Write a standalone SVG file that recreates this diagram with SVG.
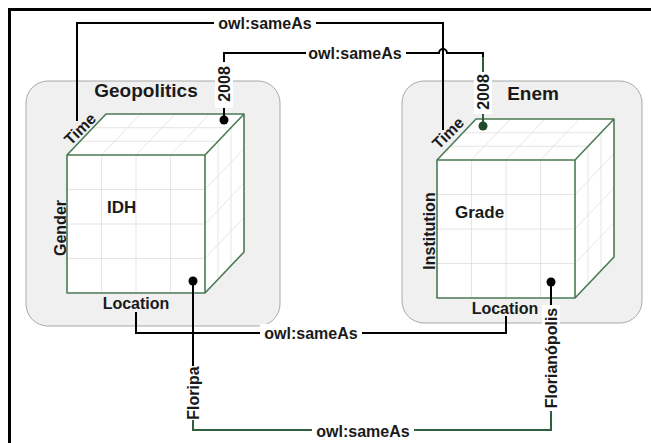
<svg xmlns="http://www.w3.org/2000/svg" width="651" height="443" viewBox="0 0 651 443">
<style>
.frame{fill:none;stroke:#000;stroke-width:3}
.box{fill:#f0f0f0;stroke:#a8a8a8;stroke-width:1}
.face{fill:#fff;stroke:none}
.grid{fill:none;stroke:#dedede;stroke-width:0.8}
.edge{fill:none;stroke:#4b7a55;stroke-width:1.6;stroke-linejoin:round}
.ln{fill:none;stroke:#000;stroke-width:2}
.gln{fill:none;stroke:#2f5f3c;stroke-width:2}
.t{font-family:"Liberation Sans",Arial,sans-serif;font-weight:bold;fill:#1a1a1a}
.lbl{font-size:16px;text-anchor:middle;dominant-baseline:central}
.title{font-size:19px;text-anchor:middle}
.m{font-size:17px}
.bg{fill:#fff}
</style>
<defs>
<g id="cube">
<rect class="face" x="0" y="0" width="138" height="138"/>
<polygon class="face" points="0,0 39,-41 177,-41 138,0"/>
<polygon class="face" points="138,0 177,-41 177,97 138,138"/>
<path class="grid" d="M34.5,0V138M69,0V138M103.5,0V138M0,34.5H138M0,69H138M0,103.5H138
M34.5,0L73.5,-41M69,0L108,-41M103.5,0L142.5,-41M13,-13.7H151M26,-27.3H164
M151,-13.7V124.3M164,-27.3V110.7M138,34.5L177,-6.5M138,69L177,28M138,103.5L177,62.5"/>
<path class="edge" d="M0,0H138V138H0Z M0,0L39,-41H177L138,0 M177,-41V97L138,138"/>
</g>
</defs>
<path class="frame" d="M9.5,443V9.5H651"/>

<g id="geopolitics">
<rect class="box" x="26" y="81" width="254" height="245" rx="22"/>
<text class="t title" x="146" y="97">Geopolitics</text>
<use href="#cube" transform="translate(67,155)"/>
<text class="t m" x="107" y="213">IDH</text>
</g>

<g id="enem">
<rect class="box" x="402" y="81" width="240" height="242" rx="22"/>
<text class="t title" x="533" y="100">Enem</text>
<use href="#cube" transform="translate(437,160)"/>
<text class="t m" x="455" y="218">Grade</text>
</g>

<g id="connectors">
<path class="ln" d="M77,121V23H443V130"/>
<path class="ln" d="M224,63V53H439A4,4 0 0 1 447,53H483V58"/>
<path class="gln" d="M483,57V75"/>
<path class="ln" d="M224,106V120"/>
<circle cx="224" cy="120" r="4.5" fill="#000"/>
<path class="gln" d="M483,110V126"/>
<circle cx="483" cy="126" r="4.5" fill="#1f4a2c"/>
<path class="ln" d="M136,312V333H506V316"/>
<path class="ln" d="M193,281V368"/>
<circle cx="193" cy="281" r="4.5" fill="#000"/>
<path class="gln" d="M193,418V430H551V408"/>
<path class="ln" d="M551,282V308"/>
<circle cx="551" cy="282" r="4.5" fill="#000"/>
</g>

<g id="label-sameas-1">
<rect class="bg" x="214" y="14" width="102" height="19"/>
<text class="t lbl" x="265" y="23">owl:sameAs</text>
</g>
<g id="label-sameas-2">
<rect class="bg" x="306" y="44" width="100" height="19"/>
<text class="t lbl" x="355" y="53">owl:sameAs</text>
</g>
<g id="label-sameas-3">
<rect class="bg" x="260" y="324" width="102" height="19"/>
<text class="t lbl" x="311" y="333">owl:sameAs</text>
</g>
<g id="label-sameas-4">
<rect class="bg" x="312" y="422" width="102" height="19"/>
<text class="t lbl" x="363" y="431">owl:sameAs</text>
</g>

<g id="label-geo-time"><text class="t lbl" transform="translate(80,129) rotate(-45)">Time</text></g>
<g id="label-enem-time"><text class="t lbl" transform="translate(448,133) rotate(-45)">Time</text></g>
<g id="label-geo-2008">
<rect class="bg" x="215" y="62" width="18" height="46"/>
<text class="t lbl" transform="translate(224,84) rotate(-90)">2008</text>
</g>
<g id="label-enem-2008">
<rect class="bg" x="474" y="72" width="18" height="42"/>
<text class="t lbl" transform="translate(483,92) rotate(-90)">2008</text>
</g>
<g id="label-gender"><text class="t lbl" transform="translate(60,228) rotate(-90)">Gender</text></g>
<g id="label-institution"><text class="t lbl" transform="translate(429,231) rotate(-90)">Institution</text></g>
<g id="label-geo-location"><text class="t lbl" x="136" y="303">Location</text></g>
<g id="label-enem-location"><text class="t lbl" x="505" y="308">Location</text></g>
<g id="label-floripa">
<rect class="bg" x="184" y="366" width="18" height="54"/>
<text class="t lbl" transform="translate(193,393) rotate(-90)">Floripa</text>
</g>
<g id="label-florianopolis">
<rect class="bg" x="542" y="305" width="18" height="106"/>
<text class="t lbl" transform="translate(551,358) rotate(-90)">Florianópolis</text>
</g>
</svg>
